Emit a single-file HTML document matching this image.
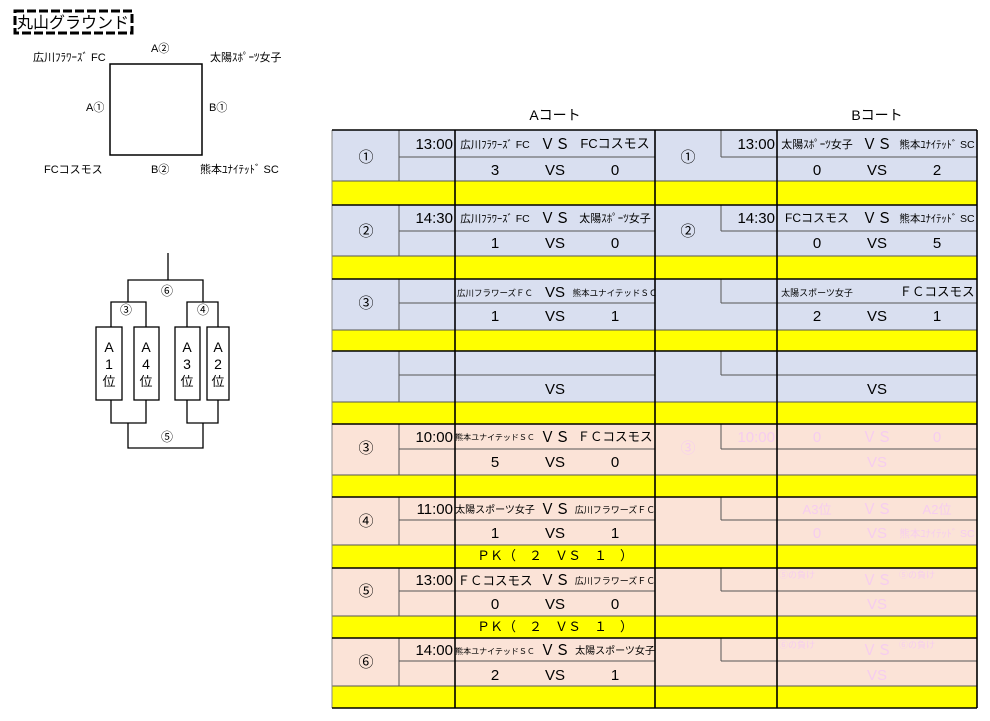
<!DOCTYPE html>
<html><head><meta charset="utf-8"><style>
html,body{margin:0;padding:0;background:#fff;}
svg{display:block;font-family:"Liberation Sans","Noto Sans CJK JP",sans-serif;}
</style></head><body>
<svg width="990" height="721" viewBox="0 0 990 721" xmlns="http://www.w3.org/2000/svg">
<!-- title -->
<rect x="15" y="11" width="117" height="22" fill="none" stroke="#000" stroke-width="3" stroke-dasharray="9,3"/>
<text x="73" y="28" font-size="16" text-anchor="middle" fill="#000">丸山グラウンド</text>
<!-- field -->
<rect x="110" y="64" width="92" height="91" fill="none" stroke="#000" stroke-width="1.5"/>
<g font-size="11" fill="#000">
<text x="33" y="61">広川ﾌﾗﾜｰｽﾞ FC</text>
<text x="151" y="52">A②</text>
<text x="210" y="61">太陽ｽﾎﾟｰﾂ女子</text>
<text x="86" y="111">A①</text>
<text x="209" y="111">B①</text>
<text x="44" y="173">FCコスモス</text>
<text x="151" y="173">B②</text>
<text x="200" y="173">熊本ﾕﾅｲﾃｯﾄﾞ SC</text>
</g>
<!-- bracket -->
<g stroke="#000" stroke-width="1.3" fill="none">
<line x1="168" y1="253" x2="168" y2="280"/>
<polyline points="128,302 128,280 203,280 203,302"/>
<polyline points="111,327 111,302 146,302 146,327"/>
<polyline points="187,327 187,302 218,302 218,327"/>
<rect x="96" y="327" width="26" height="73" fill="#fff"/>
<rect x="134" y="327" width="25" height="73" fill="#fff"/>
<rect x="175" y="327" width="25" height="73" fill="#fff"/>
<rect x="207" y="327" width="22" height="73" fill="#fff"/>
<polyline points="111,400 111,423 146,423 146,400"/>
<polyline points="187,400 187,423 218,423 218,400"/>
<polyline points="128,423 128,448 203,448 203,423"/>
</g>
<g font-size="12" text-anchor="middle" fill="#000">
<text x="167" y="295">⑥</text><text x="126" y="314">③</text><text x="203" y="314">④</text><text x="167" y="441">⑤</text>
<text font-size="14" x="109" y="352">A</text><text font-size="14" x="109" y="369">1</text><text font-size="13" x="109" y="386">位</text>
<text font-size="14" x="146" y="352">A</text><text font-size="14" x="146" y="369">4</text><text font-size="13" x="146" y="386">位</text>
<text font-size="14" x="187" y="352">A</text><text font-size="14" x="187" y="369">3</text><text font-size="13" x="187" y="386">位</text>
<text font-size="14" x="218" y="352">A</text><text font-size="14" x="218" y="369">2</text><text font-size="13" x="218" y="386">位</text>
</g>
<!-- headers -->
<text x="555" y="120" font-size="14" text-anchor="middle">Aコート</text>
<text x="877" y="120" font-size="14" text-anchor="middle">Bコート</text>

<!-- backgrounds -->
<g>
<rect x="332" y="130" width="645" height="294" fill="#d9dff0"/>
<rect x="332" y="424" width="645" height="284" fill="#fbe3d7"/>
<g fill="#ffff00">
<rect x="332" y="181" width="645" height="24"/>
<rect x="332" y="256" width="645" height="23"/>
<rect x="332" y="330" width="645" height="21"/>
<rect x="332" y="402" width="645" height="22"/>
<rect x="332" y="475" width="645" height="22"/>
<rect x="332" y="545" width="645" height="23"/>
<rect x="332" y="616" width="645" height="22"/>
<rect x="332" y="686" width="645" height="22"/>
</g>
</g>
<!-- thin lines -->
<g stroke="#555" stroke-width="1">
<!-- row split lines -->
<line x1="399" y1="157" x2="655" y2="157"/><line x1="721" y1="157" x2="977" y2="157"/>
<line x1="399" y1="231" x2="655" y2="231"/><line x1="721" y1="231" x2="977" y2="231"/>
<line x1="399" y1="303" x2="655" y2="303"/><line x1="721" y1="303" x2="977" y2="303"/>
<line x1="399" y1="375" x2="655" y2="375"/><line x1="721" y1="375" x2="977" y2="375"/>
<line x1="399" y1="449" x2="655" y2="449"/><line x1="721" y1="449" x2="977" y2="449"/>
<line x1="399" y1="520" x2="655" y2="520"/><line x1="721" y1="520" x2="977" y2="520"/>
<line x1="399" y1="591" x2="655" y2="591"/><line x1="721" y1="591" x2="977" y2="591"/>
<line x1="399" y1="661" x2="655" y2="661"/><line x1="721" y1="661" x2="977" y2="661"/>
<!-- yellow top lines -->
<line x1="332" y1="181" x2="977" y2="181"/><line x1="332" y1="256" x2="977" y2="256"/>
<line x1="332" y1="330" x2="977" y2="330"/><line x1="332" y1="402" x2="977" y2="402"/>
<line x1="332" y1="475" x2="977" y2="475"/><line x1="332" y1="545" x2="977" y2="545"/>
<line x1="332" y1="616" x2="977" y2="616"/><line x1="332" y1="686" x2="977" y2="686"/>
<!-- A time col verticals -->
<line x1="399" y1="130" x2="399" y2="181"/><line x1="399" y1="205" x2="399" y2="256"/>
<line x1="399" y1="279" x2="399" y2="330"/><line x1="399" y1="351" x2="399" y2="402"/>
<line x1="399" y1="424" x2="399" y2="475"/><line x1="399" y1="497" x2="399" y2="545"/>
<line x1="399" y1="568" x2="399" y2="616"/><line x1="399" y1="638" x2="399" y2="686"/>
<!-- B time col verticals -->
<line x1="721" y1="130" x2="721" y2="157"/><line x1="721" y1="205" x2="721" y2="231"/>
<line x1="721" y1="279" x2="721" y2="303"/><line x1="721" y1="351" x2="721" y2="375"/>
<line x1="721" y1="424" x2="721" y2="449"/><line x1="721" y1="497" x2="721" y2="520"/>
<line x1="721" y1="568" x2="721" y2="591"/><line x1="721" y1="638" x2="721" y2="661"/>
<line x1="332" y1="130" x2="332" y2="708" stroke="#888"/>
</g>
<!-- thick lines -->
<g stroke="#000" stroke-width="1.6">
<line x1="332" y1="130" x2="977" y2="130"/><line x1="332" y1="205" x2="977" y2="205"/>
<line x1="332" y1="279" x2="977" y2="279"/><line x1="332" y1="351" x2="977" y2="351"/>
<line x1="332" y1="424" x2="977" y2="424"/><line x1="332" y1="497" x2="977" y2="497"/>
<line x1="332" y1="568" x2="977" y2="568"/><line x1="332" y1="638" x2="977" y2="638"/>
<line x1="332" y1="708" x2="977" y2="708"/>
<line x1="455" y1="130" x2="455" y2="708"/><line x1="655" y1="130" x2="655" y2="708"/>
<line x1="777" y1="130" x2="777" y2="708"/><line x1="977" y1="130" x2="977" y2="708"/>
</g>

<!-- A text -->
<g fill="#000" font-size="15">
<g text-anchor="middle">
<text x="366" y="162">①</text><text x="366" y="236">②</text><text x="366" y="308">③</text>
<text x="366" y="453">③</text><text x="366" y="526">④</text><text x="366" y="596">⑤</text><text x="366" y="667">⑥</text>
<text x="688" y="162">①</text><text x="688" y="236">②</text>
</g>
<g text-anchor="end">
<text x="453" y="149">13:00</text><text x="453" y="223">14:30</text>
<text x="453" y="442">10:00</text><text x="453" y="514">11:00</text><text x="453" y="585">13:00</text><text x="453" y="655">14:00</text>
<text x="775" y="149">13:00</text><text x="775" y="223">14:30</text>
</g>
<g text-anchor="middle">
<!-- block1 A -->
<text x="495" y="148" font-size="10.5">広川ﾌﾗﾜｰｽﾞ FC</text><text x="555" y="149">ＶＳ</text><text x="615" y="148" font-size="13">FCコスモス</text>
<text x="495" y="175">3</text><text x="555" y="175">VS</text><text x="615" y="175">0</text>
<!-- block2 A -->
<text x="495" y="222" font-size="10.5">広川ﾌﾗﾜｰｽﾞ FC</text><text x="555" y="223">ＶＳ</text><text x="615" y="222" font-size="11">太陽ｽﾎﾟｰﾂ女子</text>
<text x="495" y="248">1</text><text x="555" y="248">VS</text><text x="615" y="248">0</text>
<!-- block3 A -->
<text x="495" y="296" font-size="8.5">広川フラワーズＦＣ</text><text x="555" y="297">VS</text><text x="615" y="296" font-size="8.5">熊本ユナイテッドＳＣ</text>
<text x="495" y="321">1</text><text x="555" y="321">VS</text><text x="615" y="321">1</text>
<!-- block4 A -->
<text x="555" y="394">VS</text>
<!-- block5 A -->
<text x="495" y="440" font-size="8">熊本ユナイテッドＳＣ</text><text x="555" y="442">ＶＳ</text><text x="615" y="441" font-size="12.5">ＦＣコスモス</text>
<text x="495" y="467">5</text><text x="555" y="467">VS</text><text x="615" y="467">0</text>
<!-- block6 A -->
<text x="495" y="513" font-size="10">太陽スポーツ女子</text><text x="555" y="514">ＶＳ</text><text x="615" y="513" font-size="9">広川フラワーズＦＣ</text>
<text x="495" y="538">1</text><text x="555" y="538">VS</text><text x="615" y="538">1</text>
<text x="555" y="560" font-size="13">ＰＫ（　２　ＶＳ　１　）</text>
<!-- block7 A -->
<text x="495" y="585" font-size="12.5">ＦＣコスモス</text><text x="555" y="585">ＶＳ</text><text x="615" y="584" font-size="9">広川フラワーズＦＣ</text>
<text x="495" y="609">0</text><text x="555" y="609">VS</text><text x="615" y="609">0</text>
<text x="555" y="631" font-size="13">ＰＫ（　２　ＶＳ　１　）</text>
<!-- block8 A -->
<text x="495" y="654" font-size="8">熊本ユナイテッドＳＣ</text><text x="555" y="655">ＶＳ</text><text x="615" y="654" font-size="10">太陽スポーツ女子</text>
<text x="495" y="680">2</text><text x="555" y="680">VS</text><text x="615" y="680">1</text>

<!-- B block1 -->
<text x="817" y="148" font-size="11">太陽ｽﾎﾟｰﾂ女子</text><text x="877" y="149">ＶＳ</text><text x="937" y="148" font-size="10.5">熊本ﾕﾅｲﾃｯﾄﾞ SC</text>
<text x="817" y="175">0</text><text x="877" y="175">VS</text><text x="937" y="175">2</text>
<!-- B block2 -->
<text x="817" y="222" font-size="12">FCコスモス</text><text x="877" y="223">ＶＳ</text><text x="937" y="222" font-size="10.5">熊本ﾕﾅｲﾃｯﾄﾞ SC</text>
<text x="817" y="248">0</text><text x="877" y="248">VS</text><text x="937" y="248">5</text>
<!-- B block3 -->
<text x="817" y="296" font-size="9">太陽スポーツ女子</text><text x="937" y="296" font-size="12.5">ＦＣコスモス</text>
<text x="817" y="321">2</text><text x="877" y="321">VS</text><text x="937" y="321">1</text>
<!-- B block4 -->
<text x="877" y="394">VS</text>
</g>
<!-- faint pink B -->
<g fill="#f6cdef" text-anchor="middle">
<text x="688" y="453">③</text>
<text x="775" y="442" text-anchor="end">10:00</text>
<text x="817" y="442">0</text><text x="877" y="442">ＶＳ</text><text x="937" y="442">0</text>
<text x="877" y="467">VS</text>
<text x="817" y="514" font-size="13">A3位</text><text x="877" y="514">ＶＳ</text><text x="937" y="514" font-size="13">A2位</text>
<text x="817" y="538">0</text><text x="877" y="538">VS</text><text x="937" y="537" font-size="10.5">熊本ﾕﾅｲﾃｯﾄﾞ SC</text>
<text x="797" y="578" font-size="9">⑤の負け</text><text x="877" y="585">ＶＳ</text><text x="917" y="578" font-size="9">⑤の負け</text>
<text x="877" y="609">VS</text>
<text x="797" y="648" font-size="9">⑥の負け</text><text x="877" y="655">ＶＳ</text><text x="917" y="648" font-size="9">⑥の負け</text>
<text x="877" y="680">VS</text>
</g>
</g>
</svg>
</body></html>
